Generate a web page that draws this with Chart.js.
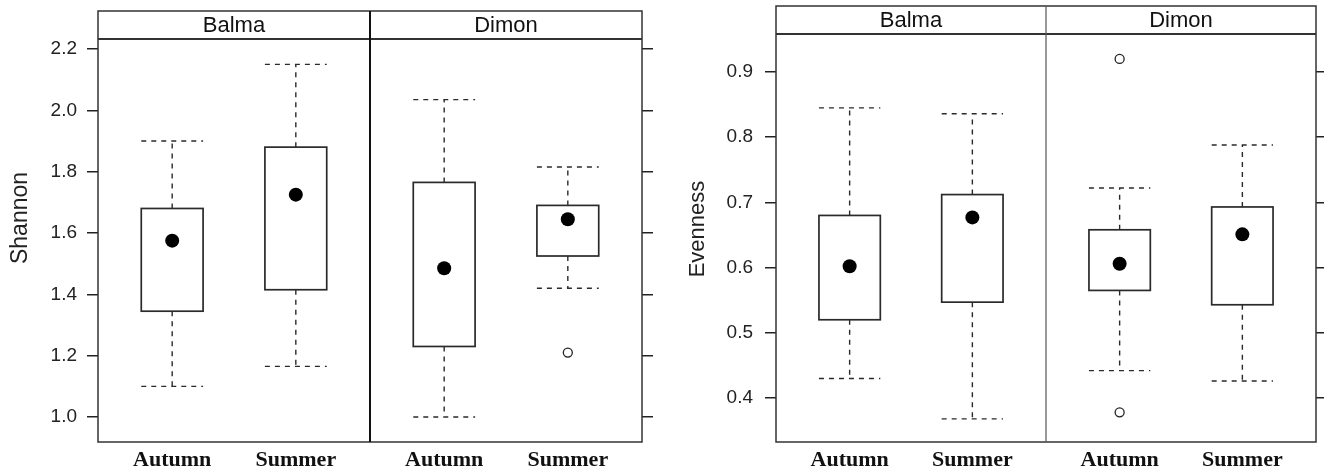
<!DOCTYPE html>
<html>
<head>
<meta charset="utf-8">
<script src="https://cdn.jsdelivr.net/npm/chart.js@4.4.1/dist/chart.umd.min.js"></script>
<style>
  body { margin: 0; background: #fff; }
  .panel { position: absolute; top: 0; width: 662px; height: 473px; }
</style>
</head>
<body>
<div class="panel" style="left:0"><canvas id="shannonChart"></canvas></div>
<div class="panel" style="left:662px"><canvas id="evennessChart"></canvas></div>
<script>
const sites = ['Balma', 'Dimon'];
const seasons = ['Autumn', 'Summer'];
// boxes in order: Balma Autumn, Balma Summer, Dimon Autumn, Dimon Summer
const groupX = [0.6, 1.6, 2.8, 3.8];
const siteX = [1.1, 3.3];
const dividerX = 2.2;

// Shannon diversity
const shannonLow = [1.10, 1.165, 1.00, 1.42];
const shannonQ1 = [1.345, 1.415, 1.23, 1.525];
const shannonMedian = [1.575, 1.725, 1.485, 1.645];
const shannonQ3 = [1.68, 1.88, 1.765, 1.69];
const shannonHigh = [1.90, 2.15, 2.035, 1.815];
const shannonOutliers = [[], [], [], [1.21]];
const shannonTicks = [1.0, 1.2, 1.4, 1.6, 1.8, 2.0, 2.2];

// Pielou evenness
const evenLow = [0.43, 0.368, 0.442, 0.426];
const evenQ1 = [0.52, 0.547, 0.565, 0.543];
const evenMedian = [0.602, 0.677, 0.606, 0.651];
const evenQ3 = [0.68, 0.712, 0.658, 0.693];
const evenHigh = [0.845, 0.836, 0.722, 0.788];
const evenOutliers = [[], [], [0.92, 0.378], []];
const evenTicks = [0.4, 0.5, 0.6, 0.7, 0.8, 0.9];

const sans = '"Liberation Sans", Arial, sans-serif';
const ink = '#222';

// boxes and dashed whiskers, drawn under the median dots
function boxPlugin(stats) {
  return {
    id: 'boxes',
    beforeDatasetsDraw(chart) {
      const { ctx, scales: { x, y } } = chart;
      ctx.save();
      ctx.strokeStyle = '#2a2a2a';
      groupX.forEach((gx, i) => {
        const left = x.getPixelForValue(gx - 0.25);
        const right = x.getPixelForValue(gx + 0.25);
        const cx = x.getPixelForValue(gx);
        const lo = y.getPixelForValue(stats.low[i]);
        const q1 = y.getPixelForValue(stats.q1[i]);
        const q3 = y.getPixelForValue(stats.q3[i]);
        const hi = y.getPixelForValue(stats.high[i]);

        ctx.setLineDash([5, 5]);
        ctx.lineWidth = 1.4;
        ctx.beginPath();
        ctx.moveTo(cx, q3); ctx.lineTo(cx, hi);
        ctx.moveTo(cx, q1); ctx.lineTo(cx, lo);
        ctx.moveTo(left, hi); ctx.lineTo(right, hi);
        ctx.moveTo(left, lo); ctx.lineTo(right, lo);
        ctx.stroke();

        ctx.setLineDash([]);
        ctx.lineWidth = 1.7;
        ctx.fillStyle = '#fff';
        ctx.fillRect(left, q3, right - left, q1 - q3);
        ctx.strokeRect(left, q3, right - left, q1 - q3);
      });
      ctx.restore();
    }
  };
}

// panel frame, strips with site names, divider between sites, y title
function framePlugin(cfg) {
  return {
    id: 'frame',
    afterDraw(chart) {
      const { ctx, chartArea: a, scales: { x } } = chart;
      const top = cfg.stripTop;
      const mid = x.getPixelForValue(dividerX);
      ctx.save();
      ctx.strokeStyle = '#333';
      ctx.lineWidth = 1.5;
      ctx.strokeRect(a.left, top, a.right - a.left, a.bottom - top);
      ctx.beginPath();
      ctx.moveTo(a.left, a.top);
      ctx.lineTo(a.right, a.top);
      ctx.lineWidth = 2;
      ctx.stroke();
      ctx.beginPath();
      ctx.moveTo(mid, top);
      ctx.lineTo(mid, a.bottom);
      ctx.lineWidth = cfg.dividerWidth;
      ctx.strokeStyle = cfg.dividerWidth > 1.5 ? '#111' : '#555';
      ctx.stroke();

      ctx.fillStyle = '#111';
      ctx.font = '22px ' + sans;
      ctx.textAlign = 'center';
      ctx.textBaseline = 'middle';
      sites.forEach((s, i) => {
        ctx.fillText(s, x.getPixelForValue(siteX[i]), (top + a.top) / 2 + 1);
      });

      ctx.translate(cfg.titleX, cfg.titleY);
      ctx.rotate(-Math.PI / 2);
      ctx.fillStyle = ink;
      ctx.font = cfg.titleSize + 'px ' + sans;
      ctx.fillText(cfg.title, 0, 0);
      ctx.restore();
    }
  };
}

function makeChart(id, cfg) {
  const medians = groupX.map((gx, i) => ({ x: gx, y: cfg.stats.median[i] }));
  const outliers = [];
  cfg.stats.outliers.forEach((list, i) => {
    list.forEach(v => outliers.push({ x: groupX[i], y: v }));
  });
  const setTicks = scale => { scale.ticks = cfg.ticks.map(v => ({ value: v })); };
  const yGrid = {
    drawOnChartArea: false,
    color: '#222',
    lineWidth: 1.5,
    tickLength: 11
  };

  return new Chart(document.getElementById(id), {
    type: 'scatter',
    data: {
      datasets: [{
        data: medians,
        pointRadius: 7,
        pointBackgroundColor: '#000',
        pointBorderWidth: 0
      }, {
        data: outliers,
        pointRadius: 4.5,
        pointBackgroundColor: '#fff',
        pointBorderColor: '#222',
        pointBorderWidth: 1.3
      }]
    },
    options: {
      responsive: true,
      maintainAspectRatio: false,
      animation: false,
      layout: { padding: { top: cfg.plotTop } },
      plugins: {
        legend: { display: false },
        tooltip: { enabled: false }
      },
      scales: {
        x: {
          type: 'linear',
          min: 0,
          max: 4.4,
          grid: { display: false, drawTicks: false },
          border: { display: false },
          afterBuildTicks: scale => { scale.ticks = groupX.map(v => ({ value: v })); },
          afterFit: scale => { scale.height = 31; },
          ticks: {
            autoSkip: false,
            maxRotation: 0,
            padding: 5,
            color: '#111',
            font: { family: '"Liberation Serif", "Times New Roman", serif', size: 22, weight: 'bold' },
            callback: (v, i) => seasons[i % 2]
          }
        },
        y: {
          min: cfg.yMin,
          max: cfg.yMax,
          grid: yGrid,
          border: { display: false },
          afterBuildTicks: setTicks,
          afterFit: scale => { scale.width = cfg.leftWidth; },
          ticks: {
            padding: cfg.labelPad,
            color: ink,
            font: { family: sans, size: 19 },
            callback: v => v.toFixed(1)
          }
        },
        yRight: {
          position: 'right',
          min: cfg.yMin,
          max: cfg.yMax,
          grid: yGrid,
          border: { display: false },
          afterBuildTicks: setTicks,
          afterFit: scale => { scale.width = cfg.rightWidth; },
          ticks: { display: false }
        }
      }
    },
    plugins: [boxPlugin(cfg.stats), framePlugin(cfg)]
  });
}

makeChart('shannonChart', {
  title: 'Shannon',
  titleSize: 23,
  titleX: 21,
  titleY: 218,
  ticks: shannonTicks,
  yMin: 0.9185,
  yMax: 2.2326,
  plotTop: 39,
  stripTop: 11,
  leftWidth: 98,
  rightWidth: 20,
  labelPad: 10,
  dividerWidth: 2,
  stats: {
    low: shannonLow, q1: shannonQ1, median: shannonMedian,
    q3: shannonQ3, high: shannonHigh, outliers: shannonOutliers
  }
});

makeChart('evennessChart', {
  title: 'Evenness',
  titleSize: 22,
  titleX: 36,
  titleY: 229,
  ticks: evenTicks,
  yMin: 0.3325,
  yMax: 0.9583,
  plotTop: 34,
  stripTop: 6,
  leftWidth: 114,
  rightWidth: 8,
  labelPad: 12,
  dividerWidth: 1.2,
  stats: {
    low: evenLow, q1: evenQ1, median: evenMedian,
    q3: evenQ3, high: evenHigh, outliers: evenOutliers
  }
});
</script>
</body>
</html>
